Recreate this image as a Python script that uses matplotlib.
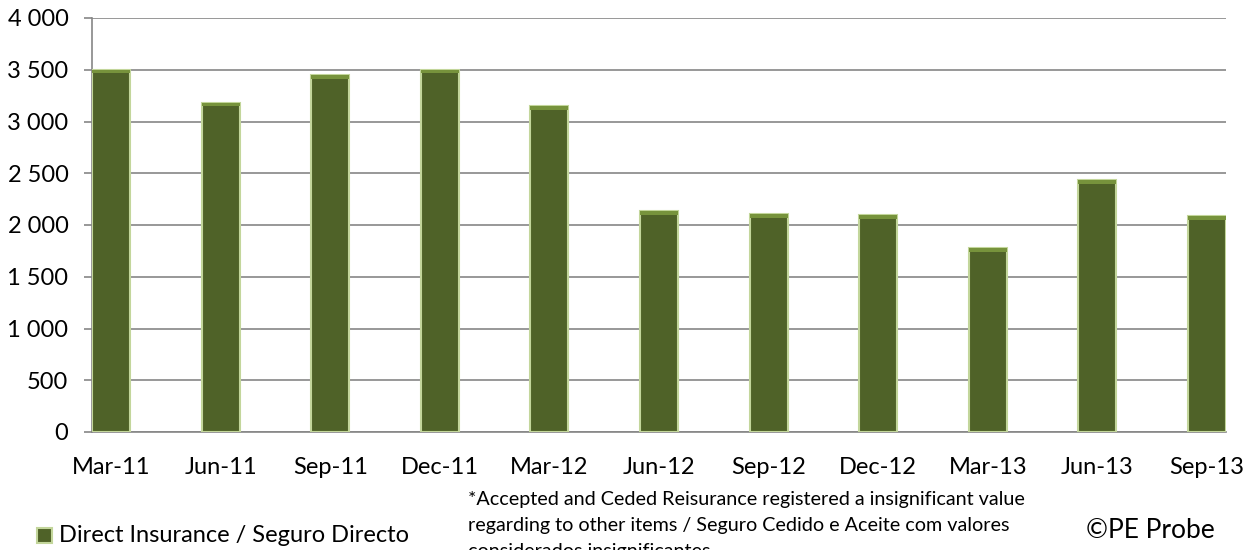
import matplotlib
matplotlib.use("Agg")
import matplotlib.pyplot as plt
from matplotlib.patches import Rectangle
from matplotlib.ticker import FuncFormatter, MultipleLocator

categories = ["Mar-11", "Jun-11", "Sep-11", "Dec-11", "Mar-12", "Jun-12",
              "Sep-12", "Dec-12", "Mar-13", "Jun-13", "Sep-13"]
direct_insurance = [3500, 3180, 3450, 3500, 3150, 2135, 2105, 2095, 1778, 2435, 2087]
legend_label = "Direct Insurance / Seguro Directo"
footnote_lines = ["*Accepted and Ceded Reisurance registered a insignificant value",
                  "regarding to other items / Seguro Cedido e Aceite com valores",
                  "considerados insignificantes"]
credit = "©PE Probe"

plt.rcParams['font.family'] = ['Lato', 'DejaVu Sans']

W, H = 1257, 550
fig = plt.figure(figsize=(W / 100, H / 100), dpi=100)
ax = fig.add_axes([92 / W, 1 - 432 / H, (1226 - 92) / W, (432 - 18) / H])

dark = "#4f6228"
cap = "#77933c"
edge = "#c3d69b"
bw = 0.347
x = list(range(len(categories)))
ax.bar(x, direct_insurance, width=bw, color=dark, edgecolor=edge, linewidth=1.5, zorder=3)
capH = 35
ax.bar(x, [capH] * len(x), bottom=[v - capH for v in direct_insurance], width=bw,
       color=cap, linewidth=0, zorder=4)

ax.set_xlim(-bw / 2, len(categories) - 1 + bw / 2)
ax.set_ylim(0, 4000)
ax.yaxis.set_major_locator(MultipleLocator(500))
ax.yaxis.set_major_formatter(FuncFormatter(lambda v, p: f"{int(v):,}".replace(",", " ")))
ax.set_xticks(x)
ax.set_xticklabels(categories)
ax.grid(axis='y', color="#868686", linewidth=1.2, zorder=0)
for s in ["top", "right"]:
    ax.spines[s].set_visible(False)
for s in ["left", "bottom"]:
    ax.spines[s].set_color("#868686")
    ax.spines[s].set_linewidth(1.2)
ax.tick_params(axis='y', length=6, width=1.2, color="#868686", labelsize=17, pad=11)
ax.tick_params(axis='x', length=0, labelsize=17, pad=18)

# legend
fig.patches.append(Rectangle((37 / W, 1 - 543 / H), 15 / W, 15 / H, transform=fig.transFigure,
                             facecolor=dark, edgecolor=edge, linewidth=1.5))
fig.text(59 / W, 1 - 535 / H, legend_label, fontsize=17, va="center", ha="left")

for i, line in enumerate(footnote_lines):
    fig.text(468 / W, 1 - (500 + 26 * i) / H, line, fontsize=14.2, va="center", ha="left")
fig.text(1215 / W, 1 - 530 / H, credit, fontsize=19, va="center", ha="right")

fig.savefig("out.png", dpi=100)
